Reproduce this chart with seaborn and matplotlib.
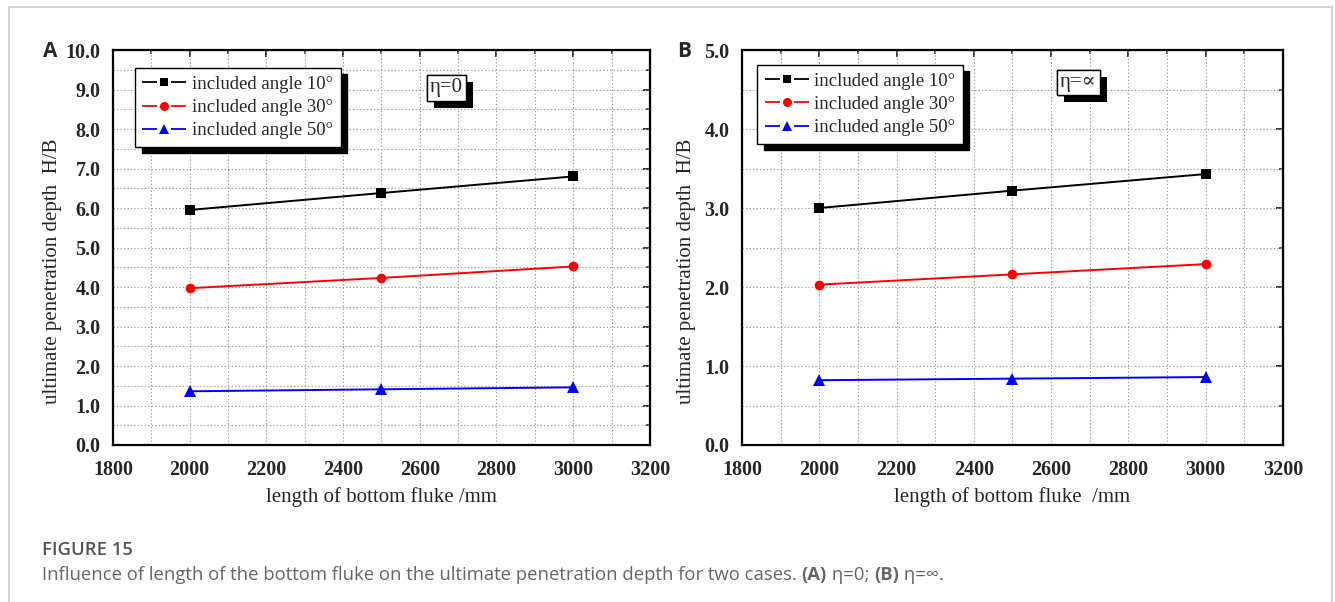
import matplotlib
matplotlib.use("Agg")
import matplotlib.pyplot as plt
import matplotlib.patheffects as pe
from matplotlib.lines import Line2D
from matplotlib.ticker import MultipleLocator, FormatStrFormatter
import pandas as pd
import seaborn as sns

# ---- data ----
lengths = [2000, 2500, 3000]
angle_labels = ["included angle 10°", "included angle 30°", "included angle 50°"]
depth_eta0_10 = [5.95, 6.38, 6.80]
depth_eta0_30 = [3.97, 4.23, 4.52]
depth_eta0_50 = [1.36, 1.41, 1.46]
depth_etainf_10 = [3.00, 3.22, 3.43]
depth_etainf_30 = [2.03, 2.16, 2.29]
depth_etainf_50 = [0.82, 0.84, 0.86]

colors = ["#000000", "#ff0000", "#0000ff"]
markers = ["s", "o", "^"]
marker_sizes = [6.5, 7.0, 8.0]

sns.set_style("white")
plt.rcParams["font.family"] = ["Liberation Serif", "DejaVu Serif"]
plt.rcParams["lines.scale_dashes"] = False

SERIF = ["Liberation Serif", "DejaVu Serif"]
SANS = ["Open Sans", "DejaVu Sans"]


def make_frame(series):
    rows = []
    for label, values in zip(angle_labels, series):
        for x, y in zip(lengths, values):
            rows.append({"length": x, "depth": y, "angle": label})
    return pd.DataFrame(rows)


fig = plt.figure(figsize=(13.35, 6.02), dpi=100)

# light frame round the figure block
for xs, ys in [([0.0067, 0.0067], [0.0, 0.988]),
               ([0.0067, 0.9977], [0.988, 0.988]),
               ([0.9977, 0.9977], [0.0, 0.988])]:
    fig.add_artist(Line2D(xs, ys, transform=fig.transFigure, color="#cccccc", lw=1.2))


def draw_panel(rect, series, ymax, xlabel, leg_anchor, eta_text, eta_pos, ylabel_x):
    ax = fig.add_axes(rect)
    df = make_frame(series)
    sns.lineplot(data=df, x="length", y="depth", hue="angle", style="angle",
                 hue_order=angle_labels, style_order=angle_labels,
                 palette=colors, markers=markers, dashes=False,
                 markeredgewidth=0, linewidth=1.4, legend=False, ax=ax)
    for line, ms in zip(ax.get_lines(), marker_sizes):
        line.set_markersize(ms)
    ax.set_xlim(1800, 3200)
    ax.set_ylim(0, ymax)
    ax.xaxis.set_major_locator(MultipleLocator(200))
    ax.xaxis.set_minor_locator(MultipleLocator(100))
    ax.yaxis.set_major_locator(MultipleLocator(1.0))
    ax.yaxis.set_minor_locator(MultipleLocator(0.5))
    ax.yaxis.set_major_formatter(FormatStrFormatter("%.1f"))
    ax.grid(True, which="both", ls=(0, (1, 1.5)), color="#a0a0a0", lw=0.8)
    ax.set_axisbelow(True)
    for sp in ax.spines.values():
        sp.set_linewidth(1.6)
        sp.set_color("black")
    ax.tick_params(which="major", direction="out", length=5, width=1.3, labelsize=14.5)
    ax.tick_params(axis="x", which="major", pad=6)
    ax.tick_params(axis="y", which="major", pad=4)
    ax.tick_params(which="minor", direction="out", length=3, width=1.1)
    for lab in ax.get_xticklabels() + ax.get_yticklabels():
        lab.set_fontweight("bold")
        lab.set_family(SERIF)

    # inward ticks on the top and right edges
    top = ax.secondary_xaxis("top")
    top.xaxis.set_major_locator(MultipleLocator(200))
    top.xaxis.set_minor_locator(MultipleLocator(100))
    top.tick_params(which="major", direction="in", length=5, width=1.3, labeltop=False)
    top.tick_params(which="minor", direction="in", length=3, width=1.1)
    right = ax.secondary_yaxis("right")
    right.yaxis.set_major_locator(MultipleLocator(1.0))
    right.yaxis.set_minor_locator(MultipleLocator(0.5))
    right.tick_params(which="major", direction="in", length=5, width=1.3, labelright=False)
    right.tick_params(which="minor", direction="in", length=3, width=1.1)

    ax.set_xlabel(xlabel, fontsize=15, family=SERIF)
    ax.xaxis.set_label_coords(0.5, -0.106)
    ax.set_ylabel("ultimate penetration depth  H/B", fontsize=15, family=SERIF)
    ax.yaxis.set_label_coords(ylabel_x, 0.44)

    handles = [Line2D([], [], color=c, marker=m, markersize=ms - 0.5, lw=1.3,
                      markeredgewidth=0, linestyle=(0, (10.8, 10.1)))
               for c, m, ms in zip(colors, markers, marker_sizes)]
    leg = ax.legend(handles, angle_labels, loc="upper left", bbox_to_anchor=leg_anchor,
                    frameon=True, fancybox=False, framealpha=1, edgecolor="black",
                    handlelength=2.35, handletextpad=0.3, labelspacing=0.33,
                    borderpad=0.4, borderaxespad=0,
                    prop={"family": SERIF, "size": 13.5},
                    shadow={"ox": 4.8, "oy": -4.5, "facecolor": "black",
                            "edgecolor": "black", "alpha": 1})
    leg.get_frame().set_linewidth(1.0)

    t = ax.text(eta_pos[0], eta_pos[1], eta_text, transform=ax.transAxes,
                ha="center", va="center", fontsize=15, family=SERIF,
                bbox=dict(boxstyle="square,pad=0.15", fc="white", ec="black", lw=1.0))
    t.get_bbox_patch().set_path_effects([
        pe.withSimplePatchShadow(offset=(5, -5), shadow_rgbFace="black", alpha=1),
        pe.Normal()])
    return ax


axA = draw_panel([0.0846, 0.2608, 0.4022, 0.6561],
                 [depth_eta0_10, depth_eta0_30, depth_eta0_50],
                 10.0, "length of bottom fluke /mm",
                 (0.041, 0.954), "η=0", (0.621, 0.904), -0.095)
axB = draw_panel([0.5558, 0.2608, 0.4052, 0.6561],
                 [depth_etainf_10, depth_etainf_30, depth_etainf_50],
                 5.0, "length of bottom fluke  /mm",
                 (0.028, 0.962), "η=∝", (0.622, 0.918), -0.085)

fig.text(0.0375, 0.915, "A", ha="center", va="center", fontsize=15,
         fontweight="bold", family=SANS)
fig.text(0.5125, 0.915, "B", ha="center", va="center", fontsize=15,
         fontweight="bold", family=SANS)

# caption
fig.text(0.0315, 0.0780, "FIGURE 15", ha="left", va="baseline", fontsize=13.3,
         fontweight="semibold", family=SANS, color="#555555")

pieces = [
    ("Influence of length of the bottom fluke on the ultimate penetration depth for two cases. ", "normal"),
    ("(A)", "bold"),
    (" η=0; ", "normal"),
    ("(B)", "bold"),
    (" η=∞.", "normal"),
]
fig.canvas.draw()
renderer = fig.canvas.get_renderer()
x = 0.0315
for txt, weight in pieces:
    t = fig.text(x, 0.0365, txt, ha="left", va="baseline", fontsize=13.3,
                 fontweight=weight, family=SANS, color="#666666")
    bb = t.get_window_extent(renderer=renderer)
    x += bb.width / fig.bbox.width

fig.savefig("out.png", dpi=100)
